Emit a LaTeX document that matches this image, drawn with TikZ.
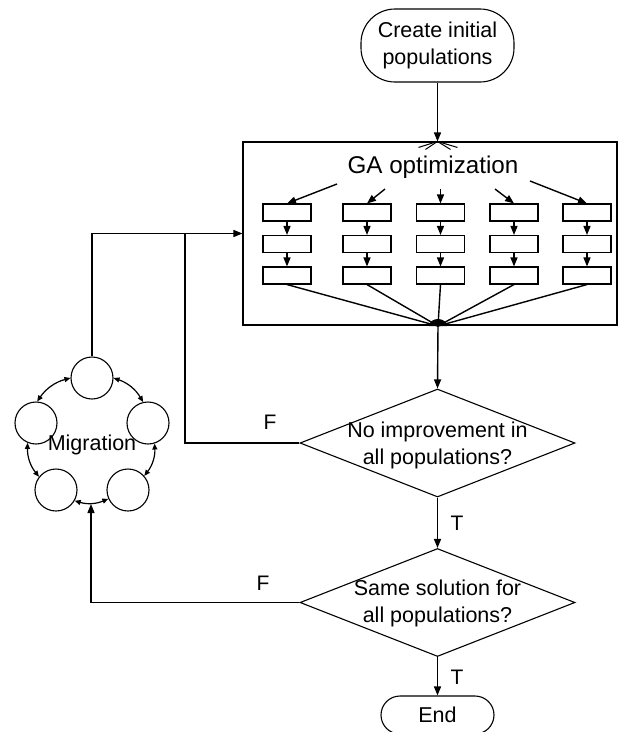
\documentclass[tikz,border=0pt]{standalone}
\usepackage{fontspec}
\setmainfont{Liberation Sans}
\usetikzlibrary{shapes.geometric,arrows.meta,calc}
\begin{document}
\begin{tikzpicture}[x=1pt,y=-1pt,
  line width=1.4pt,
  arr/.style={-{Triangle[length=9pt,width=7pt]}},
  sarr/.style={{Triangle[length=6pt,width=5pt]}-{Triangle[length=6pt,width=5pt]}, line width=1.2pt},
  txt/.style={font=\fontsize{21.5}{27}\selectfont, align=center, inner sep=0},
  cell/.style={draw, line width=1.1pt, minimum width=48pt, minimum height=17pt, inner sep=0},
  dec/.style={draw, diamond, minimum width=275pt, minimum height=108pt, inner sep=0, line width=1.1pt},
  term/.style={draw, rectangle, rounded corners=34pt, line width=1.1pt, txt},
  ring/.style={draw, circle, minimum size=42pt, inner sep=0, line width=1.1pt},
  lab/.style={font=\fontsize{21}{24}\selectfont, inner sep=0}
]
\useasboundingbox (0,0) rectangle (619,732);

% start
\node[term, minimum width=153pt, minimum height=73pt] (start) at (437.5,45.5) {Create initial\\populations};
% GA box
\node[draw, line width=1.1pt, minimum width=374pt, minimum height=183pt, inner sep=0] (ga) at (430,233.5) {};
\node[txt, font=\fontsize{24.2}{28}\selectfont] (gatext) at (433,167) {GA optimization};

\draw[arr] (start.south) -- (start.south |- ga.north);
\coordinate (top) at (start.south |- ga.north);
\foreach \dx/\dy in {-19/6,-12/8,13/8,20/6} \draw[line width=1pt] (top) -- ++(\dx,\dy);

% convergence point
\coordinate (m) at (438,326);
\fill (429,326) arc[start angle=180, end angle=360, x radius=9, y radius=7];

% cells
\foreach \c/\x in {1/287,2/367,3/440.5,4/514,5/587} {
  \foreach \r/\y in {1/212.5,2/244,3/275.5} {
    \node[cell] (b\c\r) at (\x,\y) {};
  }
  \draw[arr] (b\c1) -- (b\c2);
  \draw[arr] (b\c2) -- (b\c3);
  \draw (b\c3.south) -- (m);
}

% arrows from GA text
\coordinate (g1) at (337,184);
\coordinate (g2) at (385,189);
\coordinate (g3) at (440.5,189);
\coordinate (g4) at (495,189);
\coordinate (g5) at (530,181);
\foreach \c in {1,...,5} \draw[arr] (g\c) -- (b\c1.north);

% diamonds
\node[dec] (d1) at (437.5,443) {};
\node[txt] at (437.5,445) {No improvement in\\all populations?};
\node[dec] (d2) at (437.5,602.5) {};
\node[txt] at (437.5,603) {Same solution for\\all populations?};
\node[term, rounded corners=19pt, minimum width=113pt, minimum height=38pt] (end) at (437.5,715) {End};

\draw[arr] (m) -- (d1.north);
\draw[arr] (d1.south) -- (d2.north);
\draw[arr] (d2.south) -- (end.north);
\node[lab] at (457,523) {T};
\node[lab] at (457,677) {T};

% migration ring
\node[ring] (c1) at (92,378) {};
\node[ring] (c2) at (148,423) {};
\node[ring] (c3) at (128,490) {};
\node[ring] (c4) at (56,490) {};
\node[ring] (c5) at (36,423) {};
\node[txt] (mig) at (92,445) {Migration};

\draw[sarr] (c1.0) to[bend left=20] (c2.103);
\draw[sarr] (c2.-72) to[bend left=20] (c3.41);
\draw[sarr] (c3.204) to[bend left=20] (c4.-30);
\draw[sarr] (c4.142) to[bend left=20] (c5.247);
\draw[sarr] (c5.87) to[bend left=20] (c1.180);

% feedback
\coordinate (j) at (185,233.5);
\draw[arr] (c1.north) |- (ga.west);
\draw (d1.west) -| (j);
\coordinate (mb) at (91,504);
\draw[arr] (d2.west) -| (mb);
\node[lab] at (270,422) {F};
\node[lab] at (263,583) {F};
\end{tikzpicture}
\end{document}
